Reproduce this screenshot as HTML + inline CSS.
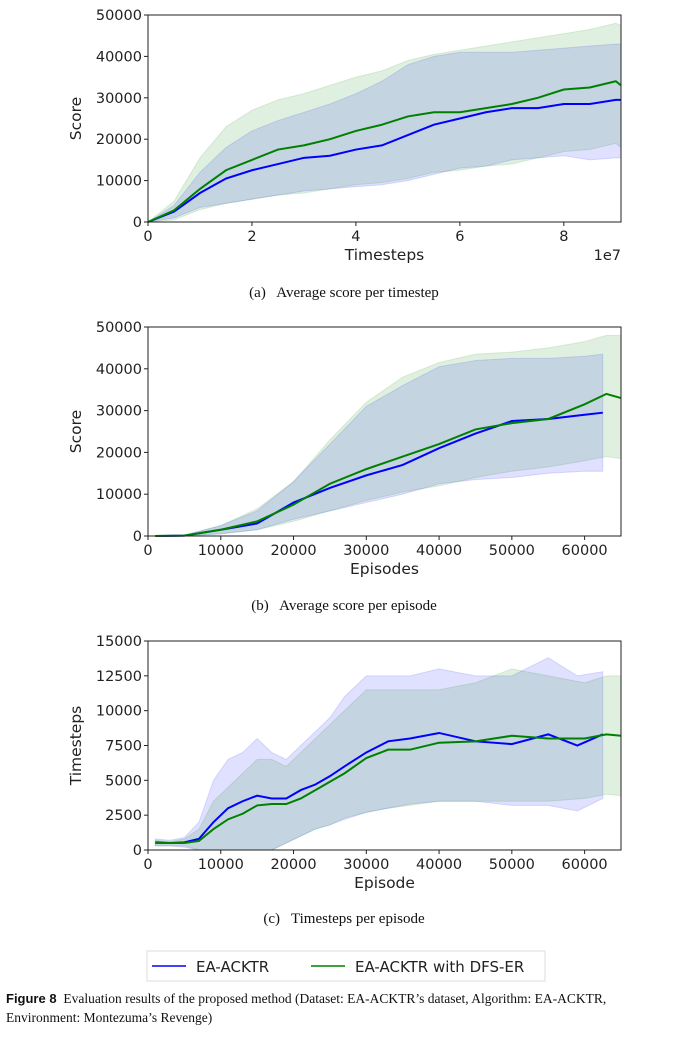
<!DOCTYPE html>
<html><head><meta charset="utf-8"><style>
body{margin:0;background:#fff;width:688px;height:1045px;overflow:hidden;position:relative;font-family:"Liberation Serif",serif}
svg{position:absolute;left:0;top:0}
.cap{position:absolute;left:0;width:688px;text-align:center;font-size:15px;color:#111}
.fig{position:absolute;left:6px;font-size:13.5px;color:#111;line-height:19px}
</style></head><body>
<svg id="s" width="688" height="1045"></svg>
<div class="cap" style="top:285px">(a)&nbsp;&nbsp; Average score per timestep</div>
<div class="cap" style="top:598px">(b)&nbsp;&nbsp; Average score per episode</div>
<div class="cap" style="top:911px">(c)&nbsp;&nbsp; Timesteps per episode</div>
<div class="fig" style="top:989px"><b style="font-family:'Liberation Sans',sans-serif;font-size:13px">Figure 8</b>&nbsp; Evaluation results of the proposed method (Dataset: EA-ACKTR’s dataset, Algorithm: EA-ACKTR,<br>Environment: Montezuma’s Revenge)</div>
<script>
// Chart (a)
const aX=[0,0.5,1,1.5,2,2.5,3,3.5,4,4.5,5,5.5,6,6.5,7,7.5,8,8.5,9,9.1];
const aBlueMean=[0,2500,7000,10500,12500,14000,15500,16000,17500,18500,21000,23500,25000,26500,27500,27500,28500,28500,29500,29500];
const aBlueUp=[0,4000,12000,18000,22000,24500,26500,28500,31000,34000,38000,40000,41000,41000,41000,41500,42000,42500,43000,43000];
const aBlueLo=[0,1000,3500,4500,5500,6500,7500,8000,8500,9000,10000,11500,13000,13500,15000,15500,16000,15000,15500,15500];
const aGreenMean=[0,2800,8000,12500,15000,17500,18500,20000,22000,23500,25500,26500,26500,27500,28500,30000,32000,32500,34000,33000];
const aGreenUp=[0,5000,15500,23000,27000,29500,31000,33000,35000,36500,39000,40500,41500,42500,43500,44500,45500,46500,48000,47500];
const aGreenLo=[0,500,3000,4500,5500,6500,7000,8000,9000,9500,10500,12000,12500,13500,14000,15500,17000,17500,19000,18000];
const aXTicks=[0,2,4,6,8];
const aYTicks=[0,10000,20000,30000,40000,50000];
// Chart (b)
const bBlueX=[1000,5000,10000,15000,20000,25000,30000,35000,40000,45000,50000,55000,60000,62500];
const bBlueMean=[0,100,1500,3000,8000,11500,14500,17000,21000,24500,27500,28000,29000,29500];
const bBlueUp=[0,200,2500,6000,13000,22000,31000,36000,40500,42000,42500,42500,43000,43500];
const bBlueLo=[0,0,500,1500,4000,6000,8000,10000,12500,13500,14000,15000,15500,15500];
const bGreenX=[1000,5000,10000,15000,20000,25000,30000,35000,40000,45000,50000,55000,60000,63000,65000];
const bGreenMean=[0,100,1500,3500,7500,12500,16000,19000,22000,25500,27000,28000,31500,34000,33000];
const bGreenUp=[0,200,2500,6500,13000,23000,32000,38000,41500,43500,44000,45000,46500,48000,48000];
const bGreenLo=[0,0,500,1500,3500,6000,8500,10500,12000,14000,15500,16500,18000,19000,18500];
const bXTicks=[0,10000,20000,30000,40000,50000,60000];
const bYTicks=[0,10000,20000,30000,40000,50000];
// Chart (c)
const cBlueX=[1000,3000,5000,7000,9000,11000,13000,15000,17000,19000,21000,23000,25000,27000,30000,33000,36000,40000,45000,50000,55000,59000,62500];
const cBlueMean=[550,500,550,800,2000,3000,3500,3900,3700,3700,4300,4700,5300,6000,7000,7800,8000,8400,7800,7600,8300,7500,8300];
const cBlueUp=[800,700,900,2000,5000,6500,7000,8000,7000,6500,7500,8500,9500,11000,12500,12500,12500,13000,12500,12500,13800,12500,12800];
const cBlueLo=[300,300,200,0,0,0,0,0,0,500,1000,1500,1800,2200,2700,3000,3300,3500,3500,3200,3200,2800,3700];
const cGreenX=[1000,3000,5000,7000,9000,11000,13000,15000,17000,19000,21000,23000,25000,27000,30000,33000,36000,40000,45000,50000,55000,60000,63000,65000];
const cGreenMean=[500,500,500,650,1500,2200,2600,3200,3300,3300,3700,4300,4900,5500,6600,7200,7200,7700,7800,8200,8000,8000,8300,8200];
const cGreenUp=[700,600,800,1500,3500,4500,5500,6500,6500,6000,7000,8000,9000,10000,11500,11500,11500,11500,12000,13000,12500,12000,12500,12500];
const cGreenLo=[300,300,300,0,0,0,0,0,0,500,1000,1500,1800,2300,2700,3000,3200,3500,3500,3500,3500,3700,4000,3900];
const cXTicks=[0,10000,20000,30000,40000,50000,60000];
const cYTicks=[0,2500,5000,7500,10000,12500,15000];

const NS='http://www.w3.org/2000/svg';
const S=document.getElementById('s');
function mk(tag,at,parent){const e=document.createElementNS(NS,tag);for(const k in at)e.setAttribute(k,at[k]);(parent||S).appendChild(e);return e;}
const FONT='"DejaVu Sans","Liberation Sans",sans-serif';
function chart(id,box,xmax,ymax,xt,yt,xl,yl,series,offset){
  const g=mk('g',{});
  
  
  const sx=v=>box.x0+(v/xmax)*(box.x1-box.x0);
  const sy=v=>box.y1-(v/ymax)*(box.y1-box.y0);
  series.forEach(s=>{
    let d='M'+s.x.map((v,i)=>sx(v)+','+sy(s.up[i])).join('L');
    for(let i=s.x.length-1;i>=0;i--)d+='L'+sx(s.x[i])+','+sy(s.lo[i]);
    const p=mk('path',{d:d+'Z',fill:s.fill,'fill-opacity':0.12,stroke:s.fill,'stroke-opacity':0.12},g);
    
    
  });
  series.forEach(s=>{
    const l=mk('polyline',{points:s.x.map((v,i)=>sx(v)+','+sy(s.m[i])).join(' '),fill:'none',stroke:s.col,'stroke-width':2},g);
    
    
  });
  const r=mk('rect',{x:box.x0,y:box.y0,width:box.x1-box.x0,height:box.y1-box.y0,fill:'none',stroke:'#222','stroke-width':1},g);
  
  
  xt.forEach(v=>{
    mk('line',{x1:sx(v),x2:sx(v),y1:box.y1,y2:box.y1+4,stroke:'#222'},g);
    const t=mk('text',{x:sx(v),y:box.y1+19,'text-anchor':'middle','font-size':14.5,'font-family':FONT,fill:'#222'},g);
    t.textContent=v;
    
    
  });
  yt.forEach(v=>{
    mk('line',{x1:box.x0-4,x2:box.x0,y1:sy(v),y2:sy(v),stroke:'#222'},g);
    const t=mk('text',{x:box.x0-6,y:sy(v)+5,'text-anchor':'end','font-size':14.5,'font-family':FONT,fill:'#222'},g);
    t.textContent=v;
    
    
  });
  const xa=mk('text',{x:(box.x0+box.x1)/2,y:box.y1+38,'text-anchor':'middle','font-size':15.5,'font-family':FONT,fill:'#222'},g);
  xa.textContent=xl;
  
  
  const cy=(box.y0+box.y1)/2;
  const ya=mk('text',{x:81,y:cy,'text-anchor':'middle','font-size':15.5,'font-family':FONT,fill:'#222',transform:'rotate(-90 81 '+cy+')'},g);
  ya.textContent=yl;
  
  
  if(offset){
    const o=mk('text',{x:box.x1,y:box.y1+38,'text-anchor':'end','font-size':14.5,'font-family':FONT,fill:'#222'},g);
    o.textContent=offset;
    
    
  }
}
const B='#0000ff',G='#008000';
chart('chart-a',{x0:148,x1:621,y0:15,y1:222},9.1,50000,aXTicks,aYTicks,'Timesteps','Score',[
 {name:'ea-acktr',x:aX,m:aBlueMean,up:aBlueUp,lo:aBlueLo,col:B,fill:B},
 {name:'dfs-er',x:aX,m:aGreenMean,up:aGreenUp,lo:aGreenLo,col:G,fill:G}],'1e7');
chart('chart-b',{x0:148,x1:621,y0:327,y1:536},65000,50000,bXTicks,bYTicks,'Episodes','Score',[
 {name:'ea-acktr',x:bBlueX,m:bBlueMean,up:bBlueUp,lo:bBlueLo,col:B,fill:B},
 {name:'dfs-er',x:bGreenX,m:bGreenMean,up:bGreenUp,lo:bGreenLo,col:G,fill:G}]);
chart('chart-c',{x0:148,x1:621,y0:641,y1:850},65000,15000,cXTicks,cYTicks,'Episode','Timesteps',[
 {name:'ea-acktr',x:cBlueX,m:cBlueMean,up:cBlueUp,lo:cBlueLo,col:B,fill:B},
 {name:'dfs-er',x:cGreenX,m:cGreenMean,up:cGreenUp,lo:cGreenLo,col:G,fill:G}]);
// legend
const lg=mk('g',{});


mk('rect',{x:147,y:951,width:398,height:30,fill:'#fff',stroke:'#ddd'},lg);
mk('line',{x1:152,x2:186,y1:966,y2:966,stroke:B,'stroke-width':1.5},lg);
const t1=mk('text',{x:196,y:972,'font-size':15,'font-family':FONT,fill:'#222'},lg);
t1.textContent='EA-ACKTR';


mk('line',{x1:311,x2:345,y1:966,y2:966,stroke:G,'stroke-width':1.5},lg);
const t2=mk('text',{x:355,y:972,'font-size':15,'font-family':FONT,fill:'#222'},lg);
t2.textContent='EA-ACKTR with DFS-ER';


</script>
</body></html>
